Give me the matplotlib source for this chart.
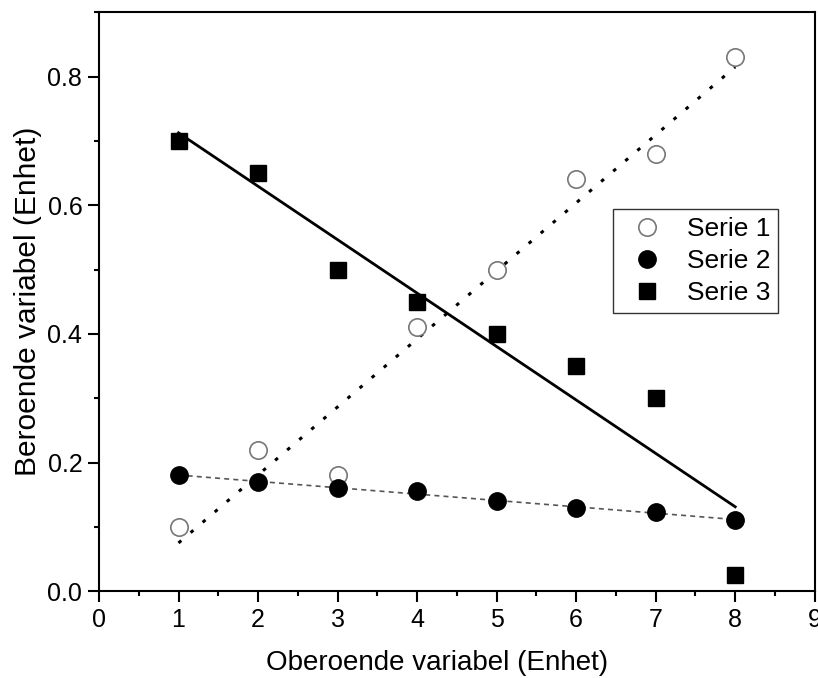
import numpy as np
import matplotlib
matplotlib.use("Agg")
import matplotlib.pyplot as plt
from matplotlib.ticker import MultipleLocator

plt.rcParams['font.family'] = ['Liberation Sans', 'DejaVu Sans']

x = [1, 2, 3, 4, 5, 6, 7, 8]
serie1 = [0.10, 0.22, 0.18, 0.41, 0.50, 0.64, 0.68, 0.83]
serie2 = [0.18, 0.17, 0.16, 0.155, 0.14, 0.13, 0.123, 0.11]
serie3 = [0.70, 0.65, 0.50, 0.45, 0.40, 0.35, 0.30, 0.025]
labels = ["Serie 1", "Serie 2", "Serie 3"]

fig = plt.figure(figsize=(8.18, 6.78), dpi=100)
ax = fig.add_axes([0.121, 0.128, 0.875, 0.854])

xa = np.array(x, dtype=float)
xf = np.array([xa.min(), xa.max()])
for ys, ls, col, lw in [(serie1, (0, (1.2, 4)), 'black', 2.2),
                        (serie2, (0, (3, 2.5)), '#555555', 1.2),
                        (serie3, '-', 'black', 2.0)]:
    p = np.polyfit(xa, ys, 1)
    ax.plot(xf, np.polyval(p, xf), linestyle=ls, color=col, lw=lw, zorder=2)

ax.plot(x, serie1, 'o', ms=12.5, mfc='white', mec='#777777', mew=1.2, ls='none', label=labels[0], zorder=3)
ax.plot(x, serie2, 'o', ms=12.5, mfc='black', mec='black', ls='none', label=labels[1], zorder=4)
ax.plot(x, serie3, 's', ms=11.5, mfc='black', mec='black', ls='none', label=labels[2], zorder=4)

ax.set_xlim(0, 9)
ax.set_ylim(0, 0.9)
ax.xaxis.set_major_locator(MultipleLocator(1))
ax.xaxis.set_minor_locator(MultipleLocator(0.5))
ax.yaxis.set_major_locator(MultipleLocator(0.2))
ax.yaxis.set_minor_locator(MultipleLocator(0.1))
ax.tick_params(which='major', length=8, width=1.5, labelsize=18, direction='out', pad=4)
ax.tick_params(which='minor', length=3.5, width=1.5, direction='out')
for s in ax.spines.values():
    s.set_linewidth(1.5)

ax.set_xlabel("Oberoende variabel (Enhet)", fontsize=20)
ax.xaxis.set_label_coords(0.472, -0.102, transform=ax.transAxes)
ax.xaxis.label.set_va('top')
ax.set_ylabel("Beroende variabel (Enhet)", fontsize=21.5, labelpad=4)

leg = ax.legend(loc='upper left', bbox_to_anchor=(0.718, 0.66), fontsize=19,
                frameon=True, fancybox=False, edgecolor='#333333', framealpha=1,
                borderaxespad=0, handletextpad=0.5, borderpad=0.3,
                labelspacing=0.3, handlelength=2.0)
leg.get_frame().set_linewidth(1.0)

fig.savefig("out.png", dpi=100)
